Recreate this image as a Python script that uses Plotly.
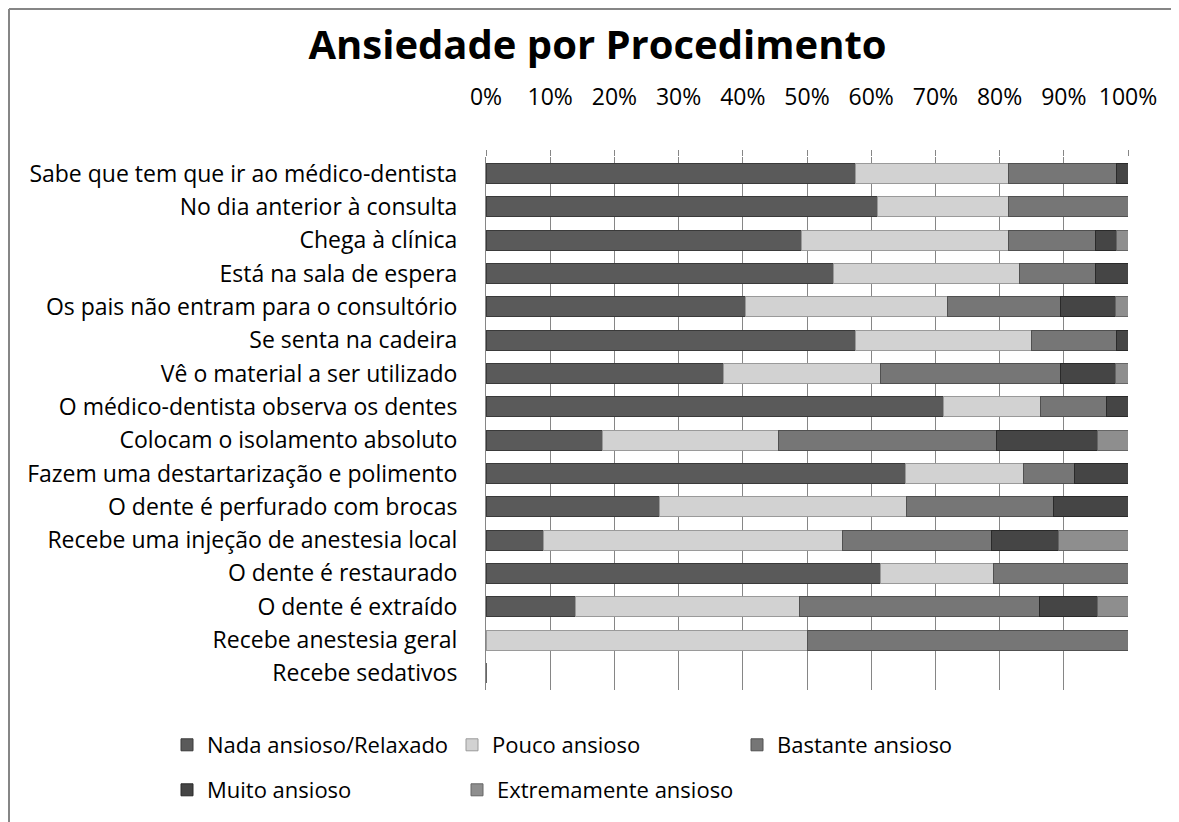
import plotly.graph_objects as go

# Procedimentos (de cima para baixo)
procedimentos = [
    "Sabe que tem que ir ao médico-dentista",
    "No dia anterior à consulta",
    "Chega à clínica",
    "Está na sala de espera",
    "Os pais não entram para o consultório",
    "Se senta na cadeira",
    "Vê o material a ser utilizado",
    "O médico-dentista observa os dentes",
    "Colocam o isolamento absoluto",
    "Fazem uma destartarização e polimento",
    "O dente é perfurado com brocas",
    "Recebe uma injeção de anestesia local",
    "O dente é restaurado",
    "O dente é extraído",
    "Recebe anestesia geral",
    "Recebe sedativos",
]

# percentagens estimadas
nada = [57.6, 61.0, 49.1, 54.2, 40.4, 57.6, 37.0, 71.2, 18.1, 65.3, 27.0, 9.0, 61.5, 13.9, 0, 0]
pouco = [23.8, 20.4, 32.3, 28.9, 31.5, 27.3, 24.4, 15.2, 27.4, 18.4, 38.5, 46.5, 17.5, 34.9, 50, 0]
bastante = [16.8, 18.6, 13.6, 11.9, 17.6, 13.3, 28.1, 10.3, 34.0, 8.0, 22.9, 23.2, 21.1, 37.4, 50, 0]
muito = [1.8, 0, 3.2, 5.0, 8.6, 1.8, 8.6, 3.3, 15.8, 8.3, 11.6, 10.5, 0, 9.1, 0, 0]
extremo = [0, 0, 1.8, 0, 1.9, 0, 1.9, 0, 4.7, 0, 0, 10.8, 0, 4.7, 0, 0]

series = [
    ("Nada ansioso/Relaxado", nada, "#5a5a5a", "#3a3a3a", "legend"),
    ("Pouco ansioso", pouco, "#d2d2d2", "#9a9a9a", "legend"),
    ("Bastante ansioso", bastante, "#767676", "#505050", "legend"),
    ("Muito ansioso", muito, "#454545", "#2a2a2a", "legend2"),
    ("Extremamente ansioso", extremo, "#8e8e8e", "#666666", "legend2"),
]

FONT = "Open Sans"
W, H = 1179, 822
L, R, T, B = 478, 59, 149, 140
PW, PH = W - L - R, H - T - B

fig = go.Figure()
for nome, vals, cor, borda, leg in series:
    fig.add_trace(go.Bar(
        name=nome, y=procedimentos, x=vals, orientation="h",
        marker=dict(color=cor, line=dict(color=borda, width=1)),
        legend=leg,
    ))

leg_style = dict(
    orientation="h", xanchor="left", yanchor="middle", x=(159 - L) / PW,
    font=dict(family=FONT, size=22, color="#000000"),
    entrywidthmode="pixels",
    bgcolor="rgba(0,0,0,0)", traceorder="normal",
)

borda_x = (1 - L) / PW
borda_y = 1 + (T - 1) / PH

fig.update_layout(
    width=W, height=H,
    barmode="stack", bargap=0.4,
    paper_bgcolor="white", plot_bgcolor="white",
    margin=dict(l=L, r=R, t=T, b=B),
    title=dict(
        text="<b>Ansiedade por Procedimento</b>",
        font=dict(family=FONT, size=40, color="#000000"),
        x=0.5, xanchor="center", y=1 - 37 / H, yanchor="middle",
    ),
    xaxis=dict(
        side="top", range=[0, 100], dtick=10, ticksuffix="%",
        showgrid=True, gridcolor="#868686", gridwidth=1,
        ticks="outside", ticklen=6, tickcolor="#868686",
        ticklabelstandoff=36, zeroline=False, showline=False,
        tickfont=dict(family=FONT, size=23, color="#000000"),
    ),
    yaxis=dict(
        autorange="reversed", showline=True, linecolor="#868686",
        ticks="", ticklabelstandoff=23,
        tickfont=dict(family=FONT, size=23, color="#000000"),
    ),
    legend=dict(leg_style, y=(T + PH - 737) / PH, entrywidth=240),
    legend2=dict(leg_style, y=(T + PH - 782) / PH, entrywidth=245),
    shapes=[
        dict(type="line", xref="paper", yref="paper",
             x0=borda_x, x1=1.2, y0=borda_y, y1=borda_y,
             line=dict(color="#868686", width=2)),
        dict(type="line", xref="paper", yref="paper",
             x0=borda_x, x1=borda_x, y0=-0.5, y1=borda_y,
             line=dict(color="#868686", width=2)),
    ],
)

fig.write_html("out.html")
